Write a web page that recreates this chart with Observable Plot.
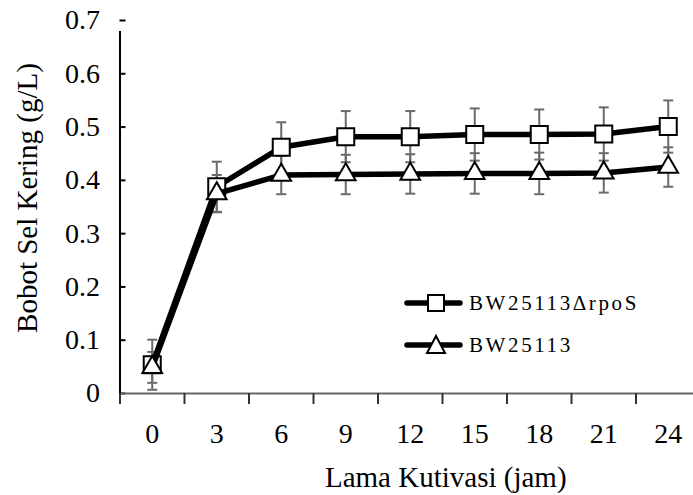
<!DOCTYPE html>
<html>
<head>
<meta charset="utf-8">
<script src="https://cdn.jsdelivr.net/npm/d3@7"></script>
<script src="https://cdn.jsdelivr.net/npm/@observablehq/plot@0.6"></script>
<style>
  html, body { margin: 0; padding: 0; background: #fff; }
  #wrap { position: relative; width: 693px; height: 495px; overflow: hidden; font-family: "Liberation Serif", Tinos, "Times New Roman", Times, "Nimbus Roman", "Noto Serif", FreeSerif, "DejaVu Serif", serif; }
  #wrap svg.plot { position: absolute; left: 0; top: 0; }
  #wrap svg text { font-family: "Liberation Serif", Tinos, "Times New Roman", Times, "Nimbus Roman", "Noto Serif", FreeSerif, "DejaVu Serif", serif; }
  .leg { position: absolute; left: 403px; display: flex; align-items: center; font-size: 21px; letter-spacing: 2.6px; color: #000; }
  .leg svg { margin-right: 4px; }
</style>
</head>
<body>
<div id="wrap"></div>
<script>
// Data
const hours = [0, 3, 6, 9, 12, 15, 18, 21, 24];
const seriesNames = ["BW25113\u0394rpoS", "BW25113"];
const rpoS = [0.054, 0.388, 0.462, 0.482, 0.482, 0.486, 0.486, 0.487, 0.501];
const rpoSErr = [0.047, 0.047, 0.047, 0.048, 0.048, 0.049, 0.047, 0.050, 0.049];
const wt = [0.049, 0.375, 0.410, 0.411, 0.412, 0.413, 0.413, 0.414, 0.425];
const wtErr = [0.029, 0.035, 0.036, 0.037, 0.037, 0.038, 0.039, 0.037, 0.037];
const yTicks = [0, 0.1, 0.2, 0.3, 0.4, 0.5, 0.6, 0.7];
const xLabel = "Lama Kutivasi (jam)";
const yLabel = "Bobot Sel Kering (g/L)";

const step = hours[1] - hours[0];
const xMin = hours[0] - step / 2;
const xMax = hours[hours.length - 1] + step / 2;
const bounds = hours.map(h => h - step / 2);

const rowsA = hours.map((h, i) => ({x: h, y: rpoS[i], e: rpoSErr[i]}));
const rowsB = hours.map((h, i) => ({x: h, y: wt[i], e: wtErr[i]}));

const cap = {draw(ctx, size) { const w = Math.sqrt(size / Math.PI); ctx.moveTo(-w, 0); ctx.lineTo(w, 0); }};

const W = 693, H = 495, mL = 119.5, mT = 20, mB = 102;
const font = '"Liberation Serif", Tinos, "Times New Roman", Times, "Nimbus Roman", "Noto Serif", FreeSerif, "DejaVu Serif", serif';
const errColor = "#6a6a6a";

function errMarks(rows) {
  return [
    Plot.ruleX(rows, {x: "x", y1: d => d.y - d.e, y2: d => d.y + d.e, stroke: errColor, strokeWidth: 2}),
    Plot.dot(rows, {x: "x", y: d => d.y + d.e, symbol: cap, r: 5, stroke: errColor, strokeWidth: 2}),
    Plot.dot(rows, {x: "x", y: d => d.y - d.e, symbol: cap, r: 5, stroke: errColor, strokeWidth: 2})
  ];
}

const chart = Plot.plot({
  width: W, height: H,
  marginLeft: mL, marginTop: mT, marginBottom: mB, marginRight: 0,
  style: {fontFamily: font, fontSize: "28px", color: "#000", background: "#fff"},
  x: {domain: [xMin, xMax], range: [mL, W + 7]},
  y: {domain: [0, 0.7]},
  marks: [
    Plot.axisY({ticks: yTicks, tickSize: 0, tickPadding: 20, tickFormat: d => d === 0 ? "0" : d.toFixed(1), label: null, fontSize: 28}),
    Plot.axisX({ticks: hours, tickSize: 0, tickPadding: 30, tickFormat: d => String(d), label: null, fontSize: 28}),
    Plot.tickY(yTicks, {y: d => d, stroke: "#000", strokeWidth: 2, insetRight: (W + 7 - mL) - 13}),
    Plot.ruleY([0], {stroke: "#666", strokeWidth: 2}),
    Plot.ruleX(bounds, {x: d => d, y: 0, insetTop: 0, insetBottom: -11, stroke: "#333", strokeWidth: 2}),
    Plot.ruleX([xMin], {x: d => d, y1: 0, y2: 0.7, insetBottom: -11, stroke: "#000", strokeWidth: 2}),
    ...errMarks(rowsA),
    ...errMarks(rowsB),
    Plot.line(rowsA, {x: "x", y: "y", stroke: "#000", strokeWidth: 5.5, strokeLinejoin: "round"}),
    Plot.dot(rowsA, {x: "x", y: "y", symbol: "square", r: 9.6, fill: "#fff", stroke: "#000", strokeWidth: 2}),
    Plot.line(rowsB, {x: "x", y: "y", stroke: "#000", strokeWidth: 5.5, strokeLinejoin: "round"}),
    Plot.dot(rowsB, {x: "x", y: "y", symbol: "triangle", r: 7.3, fill: "#fff", stroke: "#000", strokeWidth: 2}),
    Plot.text([xLabel], {text: d => d, frameAnchor: "bottom", dx: 39, dy: 84, fontSize: 29, textAnchor: "middle", lineAnchor: "middle", fontFamily: font}),
    Plot.text([yLabel], {text: d => d, frameAnchor: "left", rotate: -90, dx: -92, dy: -9, fontSize: 29, textAnchor: "middle", lineAnchor: "middle", fontFamily: font})
  ]
});
chart.classList.add("plot");
const wrap = document.getElementById("wrap");
wrap.appendChild(chart);

const legendRows = [
  {name: seriesNames[0], top: 287, sym: '<rect x="25" y="8" width="16" height="16" fill="#fff" stroke="#000" stroke-width="2"/>'},
  {name: seriesNames[1], top: 329, sym: '<path d="M33,7 L42,24 L24,24 Z" fill="#fff" stroke="#000" stroke-width="2"/>'}
];
legendRows.forEach(r => {
  const div = document.createElement("div");
  div.className = "leg";
  div.style.top = r.top + "px";
  div.innerHTML = '<svg width="62" height="32" viewBox="0 0 62 32"><line x1="4" y1="16" x2="57" y2="16" stroke="#000" stroke-width="5.5" stroke-linecap="round"/>' + r.sym + '</svg><span>' + r.name + '</span>';
  wrap.appendChild(div);
});
</script>
</body>
</html>
